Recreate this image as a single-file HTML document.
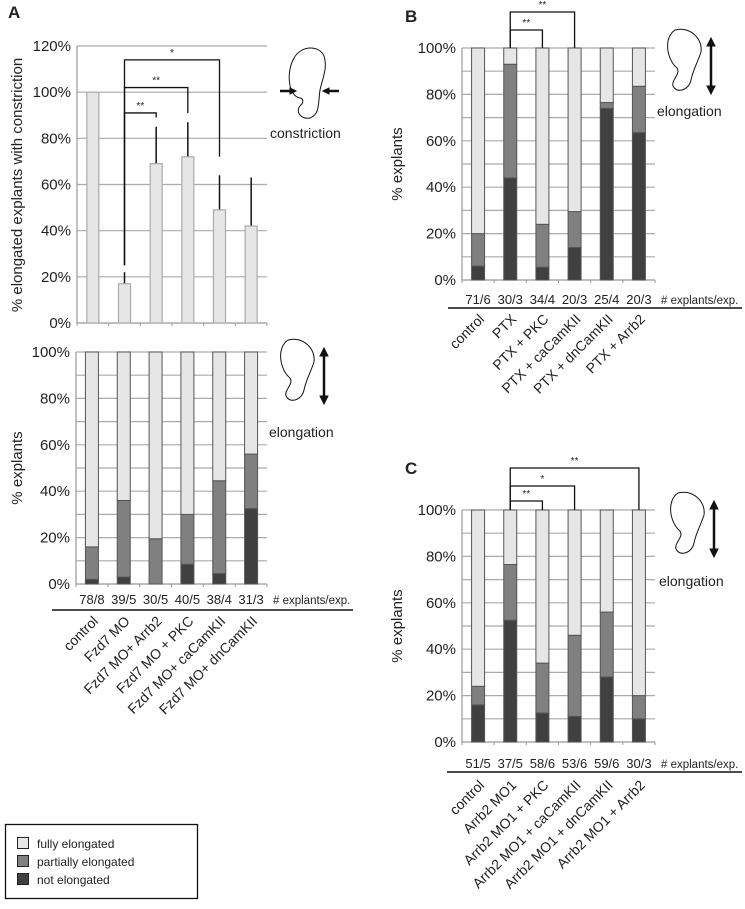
<!DOCTYPE html>
<html><head><meta charset="utf-8"><style>
body{margin:0;background:#fff}
svg text{font-family:"Liberation Sans",sans-serif;fill:#222}
</style></head><body>
<svg id="fig" width="745" height="904" xmlns="http://www.w3.org/2000/svg">
<text x="8" y="18" font-size="17" font-weight="bold">A</text>
<text x="405" y="22" font-size="17" font-weight="bold">B</text>
<text x="405" y="474" font-size="17" font-weight="bold">C</text>
<g fill="none" stroke="#111" stroke-width="1">
<path d="M300,98 C288,96 286,72 294,58 C302,44 320,46 324,56 C328,68 322,80 320,90 C318,104 320,114 310,118 C300,120 294,110 302,104 C304,100 302,98 300,98Z"/>
<path d="M280,91 L295,91" stroke-width="2.5"/><path d="M296,91 l-6,-3 v6z" fill="#111"/>
<path d="M339,91 L324,91" stroke-width="2.5"/><path d="M323,91 l6,-3 v6z" fill="#111"/>
</g>
<text x="270" y="138" font-size="14">constriction</text>
<g>
<rect x="5.5" y="824.5" width="192" height="74" fill="#fff" stroke="#111" stroke-width="1.3"/>
<rect x="17.5" y="837.5" width="11" height="11" fill="#e6e6e6" stroke="#222"/>
<text x="37" y="848" font-size="12">fully elongated</text>
<rect x="17.5" y="855.5" width="11" height="11" fill="#808080" stroke="#222"/>
<text x="37" y="866" font-size="12">partially elongated</text>
<rect x="17.5" y="873.5" width="11" height="11" fill="#404040" stroke="#222"/>
<text x="37" y="884" font-size="12">not elongated</text>
</g>
</svg>
<script>
// Panel A top data
const aTopCats=["control","Fzd7 MO","Fzd7 MO+ Arrb2","Fzd7 MO + PKC","Fzd7 MO+ caCamKII","Fzd7 MO+ dnCamKII"];
const aTopValues=[100,17,69,72,49,42];
const aTopErr=[0,22,85,87,64,63];
const aTopTicks=["0%","20%","40%","60%","80%","100%","120%"];
// Panel A bottom
const aNot=[2,3,0,8.5,4.5,32.5];
const aTotal=[16,36,19.5,30,44.5,56];
const aCounts=["78/8","39/5","30/5","40/5","38/4","31/3"];
// Panel B
const bCats=["control","PTX","PTX + PKC","PTX + caCamKII","PTX + dnCamKII","PTX + Arrb2"];
const bNot=[6,44,5.5,14,74,63.5];
const bTotal=[20,93,24,29.5,76.5,83.5];
const bCounts=["71/6","30/3","34/4","20/3","25/4","20/3"];
// Panel C
const cCats=["control","Arrb2 MO1","Arrb2 MO1 + PKC","Arrb2 MO1 + caCamKII","Arrb2 MO1 + dnCamKII","Arrb2 MO1 + Arrb2"];
const cNot=[16,52.5,12.5,11,28,10];
const cTotal=[24,76.5,34,46,56,20];
const cCounts=["51/5","37/5","58/6","53/6","59/6","30/3"];
const pctTicks=["0%","20%","40%","60%","80%","100%"];

const svg=document.getElementById('fig');
const NS="http://www.w3.org/2000/svg";
function mk(tag,attrs,parent){const e=document.createElementNS(NS,tag);for(const k in attrs)e.setAttribute(k,attrs[k]);(parent||svg).appendChild(e);return e;}
function txt(x,y,s,size,anchor,parent){const t=mk('text',{x:x,y:y,'font-size':size,'text-anchor':anchor||'start'},parent);t.textContent=s;return t;}

function axes(g,L,R,top,bot,maxV,ticks,minor){
  const y=v=>bot-(v/maxV)*(bot-top);
  const step=maxV/(ticks.length-1);
  const nLines=minor?(ticks.length-1)*2:(ticks.length-1);
  for(let i=1;i<=nLines;i++){const v=maxV*i/nLines;mk('line',{x1:L,x2:R,y1:y(v),y2:y(v),stroke:'#aaa','stroke-width':1.2},g);}
  mk('line',{x1:L,x2:L,y1:top,y2:bot,stroke:'#999','stroke-width':1.2},g);
  mk('line',{x1:L,x2:R,y1:bot,y2:bot,stroke:'#999','stroke-width':1.2},g);
  ticks.forEach((t,i)=>{const e=txt(L-6,y(i*step)+5,t,15,'end',g);});
  for(let i=0;i<=6;i++){const x=L+(R-L)*i/6;mk('line',{x1:x,x2:x,y1:bot,y2:bot+3,stroke:'#999'},g);}
  return y;
}
function yTitle(g,x,cy,s){const t=txt(0,0,s,15,'middle',g);t.setAttribute('transform',`translate(${x},${cy}) rotate(-90)`);}
function bracket(g,x1,x2,yTop,y1b,y2b,label){
  mk('path',{d:`M${x1},${y1b} V${yTop} H${x2} V${y2b}`,fill:'none',stroke:'#111','stroke-width':1.3},g);
  const t=txt((x1+x2)/2,yTop-4,label,10,'middle',g);
}
function stacked(name,L,R,top,bot,nots,totals,counts,cats,countY,lineY,lineX1,lineX2,catY){
  const g=mk('g',{});
  
  
  const y=axes(g,L,R,top,bot,100,pctTicks,true);
  const bw=(R-L)/6, w=13;
  nots.forEach((nv,i)=>{
    const cx=L+bw*(i+0.5);
    const segs=[[0,nv,'#404040','not-elongated'],[nv,totals[i],'#808080','partially-elongated'],[totals[i],100,'#e6e6e6','fully-elongated']];
    segs.forEach(s=>{if(s[1]-s[0]<=0)return;const r=mk('rect',{x:cx-w/2,y:y(s[1]),width:w,height:y(s[0])-y(s[1]),fill:s[2],stroke:'#555','stroke-width':1},g);
      });
    const c=txt(cx,countY,counts[i],13,'middle',g);
    const t=txt(0,0,cats[i],14,'end',g);t.setAttribute('transform',`translate(${cx+7},${catY}) rotate(-45)`);
    
  });
  const e=txt(R+6,countY,'# explants/exp.',11.5,'start',g);
  mk('line',{x1:lineX1,x2:lineX2,y1:lineY,y2:lineY,stroke:'#111','stroke-width':1.5},g);
  return {g,y,x:i=>L+bw*(i+0.5)};
}
function elongIcon(ox,oy,name){
  const g=mk('g',{fill:'none',stroke:'#111','stroke-width':1});
  
  mk('path',{d:`M${ox+8},${oy} C${ox-4},${oy+8} ${ox},${oy+30} ${ox+10},${oy+38} C${ox+14},${oy+44} ${ox+4},${oy+50} ${ox+6},${oy+56} C${ox+10},${oy+64} ${ox+22},${oy+60} ${ox+24},${oy+50} C${ox+26},${oy+40} ${ox+30},${oy+34} ${ox+34},${oy+22} C${ox+36},${oy+8} ${ox+22},${oy-4} ${ox+8},${oy}Z`},g);
  mk('line',{x1:ox+44,x2:ox+44,y1:oy+14,y2:oy+58,'stroke-width':2.5},g);
  mk('path',{d:`M${ox+44},${oy+8} l-4,8 h8z M${ox+44},${oy+64} l-4,-8 h8z`,fill:'#111'},g);
}

// Panel A top
(function(){
  const g=mk('g',{});
  
  
  const L=77,R=267,top=46,bot=323;
  const y=axes(g,L,R,top,bot,120,aTopTicks,false);
  const bw=(R-L)/6,w=12;
  const x=i=>L+bw*(i+0.5);
  aTopValues.forEach((v,i)=>{
    if(aTopErr[i]>v){const e=mk('line',{x1:x(i),x2:x(i),y1:y(aTopErr[i]),y2:y(v),stroke:'#111','stroke-width':1.5},g);}
    const r=mk('rect',{x:x(i)-w/2,y:y(v),width:w,height:bot-y(v),fill:'#e6e6e6',stroke:'#aaa','stroke-width':1.2},g);
    
  });
  yTitle(g,22,185,'% elongated explants with constriction');
  bracket(g,x(1),x(2),y(91),y(25),y(89),'**');
  bracket(g,x(1),x(3),y(102),y(25),y(91),'**');
  bracket(g,x(1),x(4),y(114),y(25),y(72),'*');
})();
elongIcon(280,340,'elongation-icon-a');
txt(269,437,'elongation',14,'start');

const A=stacked('panel-a-elongation-chart',76,267,352,584,aNot,aTotal,aCounts,aTopCats,604,610,52,353,622);
yTitle(A.g,22,468,'% explants');

const B=stacked('panel-b-chart',462,655,48,280,bNot,bTotal,bCounts,bCats,304,308,448,742,320);
yTitle(B.g,402,164,'% explants');
bracket(B.g,B.x(1),B.x(2),30,48,48,'**');
bracket(B.g,B.x(1),B.x(3),12,48,48,'**');
elongIcon(667,30,'elongation-icon-b');
txt(657,116,'elongation',14,'start');

const C=stacked('panel-c-chart',462,655,510,742,cNot,cTotal,cCounts,cCats,768,772,447,742,786);
yTitle(C.g,402,626,'% explants');
bracket(C.g,C.x(1),C.x(2),501,510,510,'**');
bracket(C.g,C.x(1),C.x(3),486,510,510,'*');
bracket(C.g,C.x(1),C.x(5),468,510,510,'**');
elongIcon(670,493,'elongation-icon-c');
txt(659,586,'elongation',14,'start');
</script>
</body></html>
